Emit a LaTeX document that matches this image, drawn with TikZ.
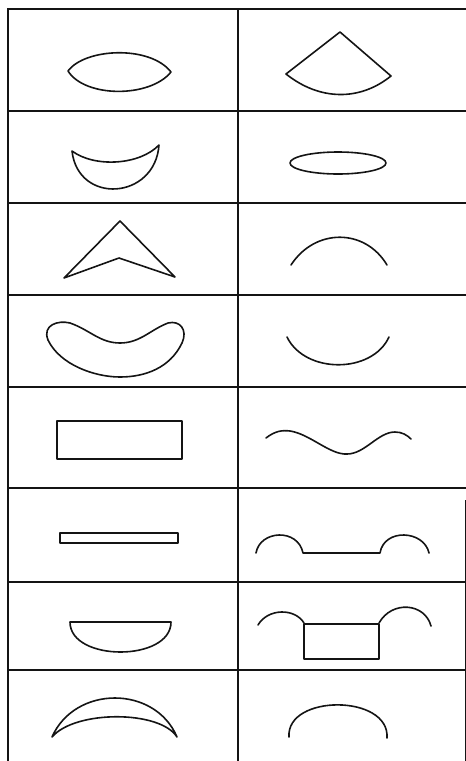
\documentclass[tikz,border=0pt]{standalone}
\usepackage{tikz}
\usetikzlibrary{calc}
\definecolor{inkdark}{RGB}{20,20,20}
\tikzset{
  gridline/.style={line width=2.4pt, color=inkdark},
  thinline/.style={line width=1.0pt, color=inkdark},
  outline/.style={line width=1.6pt, color=inkdark, line join=round, line cap=round}
}

\begin{document}
\begin{tikzpicture}[x=1pt, y=-1pt]
  \useasboundingbox (0,0) rectangle (466,761);

  % ── Table frame ───────────────────────────────────────────────────────────
  \foreach \yy in {9, 111, 203, 295, 387, 488, 582, 670} {
    \draw[gridline] (7,\yy) -- (466,\yy);
  }
  \draw[gridline] (8,8) -- (8,761);
  \draw[gridline] (238,8) -- (238,761);
  \draw[thinline] (465,500) -- (465,761);

  % ── Row 1 ─────────────────────────────────────────────────────────────────
  % lens
  \draw[outline] (68,71) .. controls (85,48) and (150,45) .. (171,72)
    .. controls (150,98) and (85,98) .. cycle;
  % sector
  \draw[outline] (340,32) -- (286,74) .. controls (320,101) and (360,101) .. (391,76) -- cycle;

  % ── Row 2 ─────────────────────────────────────────────────────────────────
  % crescent
  \draw[outline] (72,151) .. controls (95,168) and (140,165) .. (159,145)
    .. controls (155,200) and (78,205) .. cycle;
  % flat ellipse
  \draw[outline] (338,163) ellipse (48 and 11);

  % ── Row 3 ─────────────────────────────────────────────────────────────────
  % chevron
  \draw[outline] (120,221) -- (64,278) -- (119,258) -- (175,277) -- cycle;
  % arch (open)
  \draw[outline] (291,265) .. controls (315,228) and (365,228) .. (387,265);

  % ── Row 4 ─────────────────────────────────────────────────────────────────
  % bean
  \draw[outline] (48,340) .. controls (42,325) and (58,320) .. (70,323)
    .. controls (90,330) and (100,343) .. (120,343)
    .. controls (140,343) and (150,330) .. (168,323)
    .. controls (180,320) and (188,330) .. (182,343)
    .. controls (170,368) and (145,377) .. (120,377)
    .. controls (95,377) and (60,365) .. cycle;
  % bowl (open)
  \draw[outline] (287,337) .. controls (305,374) and (372,374) .. (389,337);

  % ── Row 5 ─────────────────────────────────────────────────────────────────
  \draw[outline] (57,421) rectangle (182,459);
  % wave
  \draw[outline] (266,438) .. controls (275,431) and (282,430) .. (290,431)
    .. controls (310,434) and (330,455) .. (347,454)
    .. controls (365,454) and (378,432) .. (395,432)
    .. controls (402,432) and (407,435) .. (411,439);

  % ── Row 6 ─────────────────────────────────────────────────────────────────
  \draw[outline] (60,533) rectangle (178,543);
  % two humps on a flat
  \draw[outline] (256,553) .. controls (260,530) and (298,528) .. (303,553)
    -- (380,553) .. controls (384,528) and (424,530) .. (429,553);

  % ── Row 7 ─────────────────────────────────────────────────────────────────
  % half disc
  \draw[outline] (70,622) -- (171,622) .. controls (171,662) and (70,662) .. cycle;
  % box with humps
  \draw[outline] (258,625) .. controls (268,608) and (295,608) .. (304,623);
  \draw[outline] (304,624) rectangle (379,659);
  \draw[outline] (379,623) .. controls (392,600) and (425,603) .. (431,626);

  % ── Row 8 ─────────────────────────────────────────────────────────────────
  % arched crescent
  \draw[outline] (52,737) .. controls (75,685) and (155,685) .. (177,737)
    .. controls (160,710) and (75,710) .. cycle;
  % high arch (open)
  \draw[outline] (289,737) .. controls (286,694) and (390,694) .. (387,738);
\end{tikzpicture}
\end{document}
